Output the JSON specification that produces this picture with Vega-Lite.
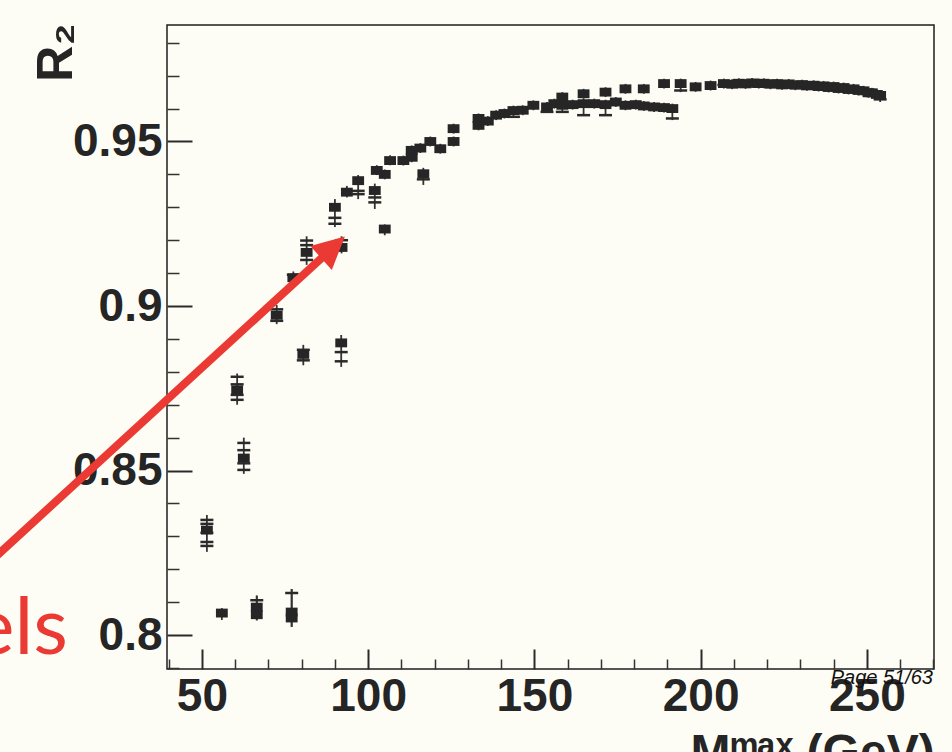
{
  "$schema": "https://vega.github.io/schema/vega-lite/v6.json",
  "width": 767,
  "height": 644,
  "autosize": "none",
  "padding": {"left": 167, "top": 25, "right": 18, "bottom": 83},
  "background": "#fdfdf6",
  "config": {
    "view": {"stroke": "#1e1e1e", "strokeWidth": 1.5, "fill": "#fdfdf6"},
    "axis": {"grid": false}
  },
  "datasets": {
    "sq": [
      {"m": 51.5, "r": 0.8319, "lo": 0.8253, "hi": 0.8365},
      {"m": 56, "r": 0.8067, "lo": 0.8046, "hi": 0.8082},
      {"m": 66.5, "r": 0.8085, "lo": 0.8045, "hi": 0.812},
      {"m": 66.5, "r": 0.8062, "lo": 0.8045, "hi": 0.812},
      {"m": 77, "r": 0.807, "lo": 0.8025, "hi": 0.814},
      {"m": 77, "r": 0.8052, "lo": 0.8025, "hi": 0.814},
      {"m": 60.6, "r": 0.8745, "lo": 0.87, "hi": 0.8795},
      {"m": 62.6, "r": 0.8538, "lo": 0.849, "hi": 0.86},
      {"m": 72.5, "r": 0.8972, "lo": 0.8945, "hi": 0.9003},
      {"m": 80.5, "r": 0.8853, "lo": 0.882, "hi": 0.8882},
      {"m": 91.9, "r": 0.8888, "lo": 0.8815, "hi": 0.8912},
      {"m": 77.5, "r": 0.9086, "lo": 0.907, "hi": 0.9105},
      {"m": 81.5, "r": 0.9163, "lo": 0.9125, "hi": 0.9212},
      {"m": 92, "r": 0.9178, "lo": 0.916, "hi": 0.9212},
      {"m": 90, "r": 0.93, "lo": 0.924, "hi": 0.9325},
      {"m": 93.6, "r": 0.9346, "lo": 0.933, "hi": 0.9365},
      {"m": 97, "r": 0.9381, "lo": 0.9325, "hi": 0.9398},
      {"m": 102, "r": 0.9351, "lo": 0.9295, "hi": 0.9372},
      {"m": 102.6, "r": 0.9412, "lo": 0.9398, "hi": 0.9428},
      {"m": 105, "r": 0.94, "lo": 0.9385, "hi": 0.9415},
      {"m": 105, "r": 0.9234, "lo": 0.9215, "hi": 0.9248},
      {"m": 106.6, "r": 0.9442, "lo": 0.9428, "hi": 0.9458},
      {"m": 110.6, "r": 0.9442, "lo": 0.9427, "hi": 0.9457},
      {"m": 113.1, "r": 0.9473, "lo": 0.9458, "hi": 0.9488},
      {"m": 113.1, "r": 0.9452, "lo": 0.9437, "hi": 0.9467},
      {"m": 116.6, "r": 0.9402, "lo": 0.9368, "hi": 0.942},
      {"m": 115.7, "r": 0.948, "lo": 0.9465, "hi": 0.9495},
      {"m": 118.7, "r": 0.95, "lo": 0.9485, "hi": 0.9515},
      {"m": 121.7, "r": 0.9478, "lo": 0.9463, "hi": 0.9493},
      {"m": 125.7, "r": 0.9539, "lo": 0.9524, "hi": 0.9554},
      {"m": 125.7, "r": 0.95, "lo": 0.9485, "hi": 0.9515},
      {"m": 133.2, "r": 0.957, "lo": 0.9555, "hi": 0.9585},
      {"m": 133.2, "r": 0.9549, "lo": 0.9534, "hi": 0.9564},
      {"m": 136, "r": 0.9562, "lo": 0.9547, "hi": 0.9577},
      {"m": 138.5, "r": 0.958, "lo": 0.9565, "hi": 0.9595},
      {"m": 141, "r": 0.9585, "lo": 0.957, "hi": 0.96},
      {"m": 143.7, "r": 0.9594, "lo": 0.9575, "hi": 0.9609},
      {"m": 146.5, "r": 0.9595, "lo": 0.958, "hi": 0.961},
      {"m": 149.7, "r": 0.961, "lo": 0.9595, "hi": 0.9625},
      {"m": 153.8, "r": 0.9605, "lo": 0.9588, "hi": 0.962},
      {"m": 156, "r": 0.9615, "lo": 0.96, "hi": 0.963},
      {"m": 158.4, "r": 0.9635, "lo": 0.962, "hi": 0.965},
      {"m": 158.4, "r": 0.961, "lo": 0.9588, "hi": 0.9625},
      {"m": 161.5, "r": 0.9612, "lo": 0.9597, "hi": 0.9627},
      {"m": 164.8, "r": 0.9645, "lo": 0.963, "hi": 0.966},
      {"m": 164.8, "r": 0.9615, "lo": 0.9578, "hi": 0.963},
      {"m": 168, "r": 0.9615, "lo": 0.96, "hi": 0.963},
      {"m": 171.4, "r": 0.965, "lo": 0.9635, "hi": 0.9665},
      {"m": 171.4, "r": 0.9612, "lo": 0.9578, "hi": 0.9627},
      {"m": 174.5, "r": 0.962, "lo": 0.9605, "hi": 0.9635},
      {"m": 177.4, "r": 0.966, "lo": 0.9645, "hi": 0.9675},
      {"m": 177.4, "r": 0.961, "lo": 0.9595, "hi": 0.9625},
      {"m": 180.5, "r": 0.9612, "lo": 0.9597, "hi": 0.9627},
      {"m": 182.9, "r": 0.966, "lo": 0.9645, "hi": 0.9675},
      {"m": 182.9, "r": 0.9608, "lo": 0.9593, "hi": 0.9623},
      {"m": 186, "r": 0.9605, "lo": 0.959, "hi": 0.962},
      {"m": 189, "r": 0.9676, "lo": 0.9661, "hi": 0.9691},
      {"m": 189, "r": 0.9603, "lo": 0.9588, "hi": 0.9618},
      {"m": 191.5, "r": 0.96, "lo": 0.9565, "hi": 0.9615},
      {"m": 194, "r": 0.9676, "lo": 0.965, "hi": 0.9691},
      {"m": 198.5, "r": 0.9666, "lo": 0.9651, "hi": 0.9681},
      {"m": 203, "r": 0.967, "lo": 0.9655, "hi": 0.9685},
      {"m": 207, "r": 0.9676, "lo": 0.9661, "hi": 0.9691},
      {"m": 209.5, "r": 0.9674, "lo": 0.9659, "hi": 0.9689},
      {"m": 211.5, "r": 0.9677, "lo": 0.9662, "hi": 0.9692},
      {"m": 213.5, "r": 0.9675, "lo": 0.966, "hi": 0.969},
      {"m": 215.5, "r": 0.9678, "lo": 0.9663, "hi": 0.9693},
      {"m": 217.5, "r": 0.9676, "lo": 0.9661, "hi": 0.9691},
      {"m": 219, "r": 0.9677, "lo": 0.9662, "hi": 0.9692},
      {"m": 221, "r": 0.9674, "lo": 0.9659, "hi": 0.9689},
      {"m": 223, "r": 0.9676, "lo": 0.9661, "hi": 0.9691},
      {"m": 224.5, "r": 0.9672, "lo": 0.9657, "hi": 0.9687},
      {"m": 226.5, "r": 0.9675, "lo": 0.966, "hi": 0.969},
      {"m": 228.5, "r": 0.9671, "lo": 0.9656, "hi": 0.9686},
      {"m": 230.5, "r": 0.9673, "lo": 0.9658, "hi": 0.9688},
      {"m": 232, "r": 0.9669, "lo": 0.9654, "hi": 0.9684},
      {"m": 234, "r": 0.9671, "lo": 0.9656, "hi": 0.9686},
      {"m": 235.5, "r": 0.9667, "lo": 0.9652, "hi": 0.9682},
      {"m": 237, "r": 0.9669, "lo": 0.9654, "hi": 0.9684},
      {"m": 238.5, "r": 0.9664, "lo": 0.9649, "hi": 0.9679},
      {"m": 240, "r": 0.9667, "lo": 0.9652, "hi": 0.9682},
      {"m": 241.5, "r": 0.9661, "lo": 0.9646, "hi": 0.9676},
      {"m": 243, "r": 0.9664, "lo": 0.9649, "hi": 0.9679},
      {"m": 244.5, "r": 0.9658, "lo": 0.9643, "hi": 0.9673},
      {"m": 246, "r": 0.966, "lo": 0.9645, "hi": 0.9675},
      {"m": 247.5, "r": 0.9655, "lo": 0.964, "hi": 0.967},
      {"m": 249, "r": 0.9654, "lo": 0.9639, "hi": 0.9669},
      {"m": 250.5, "r": 0.9648, "lo": 0.9633, "hi": 0.9663},
      {"m": 251.5, "r": 0.9648, "lo": 0.9633, "hi": 0.9663},
      {"m": 253, "r": 0.9643, "lo": 0.9628, "hi": 0.9658},
      {"m": 254, "r": 0.964, "lo": 0.962, "hi": 0.9655}
    ],
    "dash": [
      {"m": 51.5, "r": 0.835}, {"m": 51.5, "r": 0.8338}, {"m": 51.5, "r": 0.8311}, {"m": 51.5, "r": 0.8283}, {"m": 51.5, "r": 0.8271},
      {"m": 66.5, "r": 0.8106},
      {"m": 77, "r": 0.8128},
      {"m": 60.6, "r": 0.8785}, {"m": 60.6, "r": 0.8762}, {"m": 60.6, "r": 0.873}, {"m": 60.6, "r": 0.8715},
      {"m": 62.6, "r": 0.8584}, {"m": 62.6, "r": 0.8562}, {"m": 62.6, "r": 0.8522}, {"m": 62.6, "r": 0.8502},
      {"m": 72.5, "r": 0.899}, {"m": 72.5, "r": 0.8955},
      {"m": 80.5, "r": 0.8867}, {"m": 80.5, "r": 0.8835},
      {"m": 91.9, "r": 0.886}, {"m": 91.9, "r": 0.8832},
      {"m": 77.5, "r": 0.9095},
      {"m": 81.5, "r": 0.9199}, {"m": 81.5, "r": 0.9185}, {"m": 81.5, "r": 0.914},
      {"m": 92, "r": 0.92},
      {"m": 90, "r": 0.9268}, {"m": 90, "r": 0.925},
      {"m": 97, "r": 0.935}, {"m": 97, "r": 0.934},
      {"m": 102, "r": 0.933}, {"m": 102, "r": 0.9315},
      {"m": 116.6, "r": 0.9385},
      {"m": 143.7, "r": 0.9575},
      {"m": 153.8, "r": 0.959},
      {"m": 158.4, "r": 0.959},
      {"m": 164.8, "r": 0.958},
      {"m": 171.4, "r": 0.958},
      {"m": 191.5, "r": 0.957},
      {"m": 194, "r": 0.9655},
      {"m": 207, "r": 0.9672},
      {"m": 223, "r": 0.9668},
      {"m": 226.5, "r": 0.9664},
      {"m": 237, "r": 0.9666},
      {"m": 243, "r": 0.9658},
      {"m": 251.5, "r": 0.9642},
      {"m": 254, "r": 0.9628}
    ]
  },
  "resolve": {"axis": {"x": "independent", "y": "independent"}},
  "layer": [
    {
      "data": {"name": "sq"},
      "mark": {"type": "rule", "color": "#333333", "strokeWidth": 1.8},
      "encoding": {
        "x": {
          "field": "m", "type": "quantitative",
          "scale": {"domain": [39.5, 270.2], "nice": false, "zero": false},
          "axis": {
            "orient": "bottom",
            "values": [50, 100, 150, 200, 250], "format": "d",
            "ticks": false, "domain": false,
            "labelFont": "Liberation Sans", "labelFontSize": 46, "labelFontWeight": "bold",
            "labelColor": "#252525", "labelPadding": 5, "labelFlush": false, "labelOverlap": false,
            "title": "Mᵐᵃˣ (GeV)",
            "titleFont": "Liberation Sans", "titleFontSize": 48, "titleFontWeight": "bold",
            "titleColor": "#252525", "titleAlign": "left", "titleBaseline": "alphabetic",
            "titleX": 523, "titleY": 98
          }
        },
        "y": {
          "field": "lo", "type": "quantitative",
          "scale": {"domain": [0.7897, 0.9854], "nice": false, "zero": false},
          "axis": {
            "orient": "left",
            "values": [0.8, 0.85, 0.9, 0.95], "format": ".2~f",
            "ticks": false, "domain": false,
            "labelFont": "Liberation Sans", "labelFontSize": 46, "labelFontWeight": "bold",
            "labelColor": "#252525", "labelPadding": 5, "labelFlush": false, "labelOverlap": false,
            "title": "R₂",
            "titleFont": "Liberation Sans", "titleFontSize": 50, "titleFontWeight": "bold",
            "titleColor": "#252525", "titleAngle": -90, "titleAlign": "center", "titleBaseline": "alphabetic",
            "titleX": -96, "titleY": 27
          }
        },
        "y2": {"field": "hi"}
      }
    },
    {
      "data": {"name": "dash"},
      "mark": {"type": "tick", "orient": "horizontal", "size": 13, "thickness": 2.5, "color": "#2a2a2a", "opacity": 1},
      "encoding": {
        "x": {
          "field": "m", "type": "quantitative",
          "axis": {"orient": "bottom", "values": [50, 100, 150, 200, 250], "labels": false, "domain": false, "tickSize": -20, "tickWidth": 2, "tickColor": "#2a2a2a", "title": null}
        },
        "y": {
          "field": "r", "type": "quantitative",
          "axis": {"orient": "left", "values": [0.8, 0.85, 0.9, 0.95], "labels": false, "domain": false, "tickSize": -25, "tickWidth": 2, "tickColor": "#2a2a2a", "title": null}
        }
      }
    },
    {
      "data": {"name": "sq"},
      "mark": {"type": "point", "shape": "M-1,-0.75H1V0.75H-1Z", "filled": true, "size": 140, "color": "#262626", "opacity": 1, "strokeWidth": 0},
      "encoding": {
        "x": {
          "field": "m", "type": "quantitative",
          "axis": {"orient": "bottom", "values": [40, 60, 70, 80, 90, 110, 120, 130, 140, 160, 170, 180, 190, 210, 220, 230, 240, 260, 270], "labels": false, "domain": false, "tickSize": -10, "tickWidth": 1.5, "tickColor": "#333333", "title": null}
        },
        "y": {
          "field": "r", "type": "quantitative",
          "axis": {"orient": "left", "values": [0.79, 0.81, 0.82, 0.83, 0.84, 0.86, 0.87, 0.88, 0.89, 0.91, 0.92, 0.93, 0.94, 0.96, 0.97, 0.98], "labels": false, "domain": false, "tickSize": -12, "tickWidth": 1.5, "tickColor": "#333333", "title": null}
        }
      }
    },
    {
      "data": {"values": [{}]},
      "mark": {"type": "rule", "color": "#ea3a33", "strokeWidth": 8, "strokeCap": "butt"},
      "encoding": {
        "x": {"datum": -13.8, "type": "quantitative", "axis": null},
        "y": {"datum": 0.8222, "type": "quantitative", "axis": null},
        "x2": {"datum": 88.5},
        "y2": {"datum": 0.9169}
      }
    },
    {
      "data": {"values": [{}]},
      "mark": {"type": "point", "shape": "M0,0L0.5,1L-0.5,1Z", "filled": true, "size": 4096, "angle": 48, "color": "#ea3a33", "opacity": 1, "strokeWidth": 0},
      "encoding": {
        "x": {"datum": 93.0, "type": "quantitative", "axis": null},
        "y": {"datum": 0.9211, "type": "quantitative", "axis": null}
      }
    },
    {
      "data": {"values": [{}]},
      "mark": {"type": "text", "text": "els", "font": "Lato", "fontSize": 80, "color": "#ea3a33", "align": "right", "baseline": "alphabetic"},
      "encoding": {
        "x": {"datum": 9.7, "type": "quantitative", "axis": null},
        "y": {"datum": 0.7942, "type": "quantitative", "axis": null}
      }
    },
    {
      "data": {"values": [{}]},
      "mark": {"type": "text", "text": "Page 51/63", "font": "Liberation Sans", "fontStyle": "italic", "fontSize": 20, "color": "#111111", "align": "right", "baseline": "alphabetic"},
      "encoding": {
        "x": {"datum": 269.9, "type": "quantitative", "axis": null},
        "y": {"datum": 0.7851, "type": "quantitative", "axis": null}
      }
    }
  ]
}
